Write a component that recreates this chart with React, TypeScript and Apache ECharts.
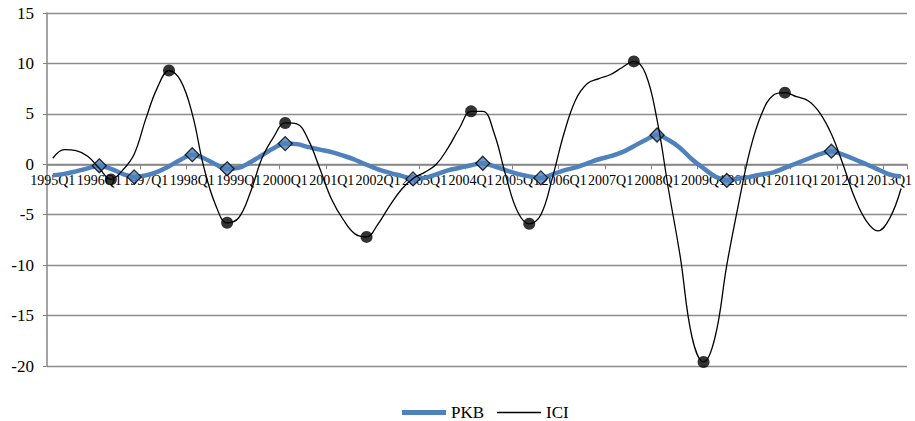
import React, { useEffect, useRef } from "react";
import * as echarts from "echarts";

// Quarterly labels, 1995Q1 .. 2013Q2
const years = [1995, 1996, 1997, 1998, 1999, 2000, 2001, 2002, 2003, 2004, 2005, 2006, 2007, 2008, 2009, 2010, 2011, 2012, 2013];
const quarterNames = ["Q1", "Q2", "Q3", "Q4"];
const categories: string[] = years
  .flatMap((y) => quarterNames.map((q) => `${y}${q}`))
  .slice(0, 74);

// Cyclical component of GDP (PKB)
const pkb = [
  -1.1, -0.95, -0.7, -0.4, -0.15, -0.45, -0.95, -1.25,
  -1.1, -0.75, -0.2, 0.45, 0.95, 0.6, 0.0, -0.45,
  -0.35, 0.2, 0.9, 1.6, 2.05, 2.0, 1.7, 1.45,
  1.2, 0.85, 0.45, -0.05, -0.5, -0.85, -1.15, -1.45,
  -1.35, -1.0, -0.6, -0.35, -0.1, 0.1, -0.2, -0.6,
  -0.95, -1.2, -1.35, -1.0, -0.6, -0.3, 0.1, 0.5,
  0.8, 1.2, 1.8, 2.4, 2.9, 2.4, 1.6, 0.5,
  -0.4, -1.2, -1.6, -1.4, -1.25, -1.0, -0.8, -0.35,
  0.1, 0.55, 1.0, 1.3, 0.95, 0.5, 0.0, -0.5,
  -1.0, -1.2,
];

// Industrial confidence indicator (ICI)
const ici = [
  0.6, 1.45, 1.35, 0.8, -0.4, -1.5, -0.6, 1.0,
  4.5, 7.6, 9.3, 8.3, 5.0, -0.3, -4.0, -5.8,
  -5.3, -2.8, 0.6, 2.7, 4.1, 4.0, 2.4, -0.5,
  -3.5, -5.5, -6.9, -7.2, -5.9, -4.1, -2.5, -1.4,
  -0.8, 0.0, 1.6, 3.6, 5.25, 5.25, 3.0, -1.2,
  -4.7, -5.9, -5.0, -1.3, 3.1, 6.4, 8.0, 8.5,
  8.9, 9.6, 10.2, 9.0, 4.4, -2.6, -9.2, -17.1,
  -19.6, -17.1, -10.0, -4.0, 1.4, 5.0, 6.85, 7.1,
  6.7, 6.3, 5.1, 3.0, 0.0, -3.3, -5.6, -6.6,
  -5.4, -2.4,
];

// Turning points (quarter indices) of each series
const pkbTurns = [4, 7, 12, 15, 20, 31, 37, 42, 52, 58, 67];
const iciTurns = [5, 10, 15, 20, 27, 36, 41, 50, 56, 63];

const yTicks = { min: -20, max: 15, interval: 5 };

const FONT = "Liberation Serif";
const BLUE = "#4F81BD";
const GRID_GRAY = "#8c8c8c";
const AXIS_GRAY = "#868686";

const CHART_W = 915;
const CHART_H = 421;
const GRID = { left: 47, right: 4, top: 13, bottom: 55 };

// The category axis sits on the zero line: shift it up from the bottom edge
const plotH = CHART_H - GRID.top - GRID.bottom;
const zeroShift = (plotH * (0 - yTicks.min)) / (yTicks.max - yTicks.min);

export default function App() {
  const ref = useRef<HTMLDivElement>(null);

  useEffect(() => {
    if (!ref.current) return;
    const chart = echarts.init(ref.current, undefined, { renderer: "svg" });
    chart.setOption({
      animation: false,
      backgroundColor: "#ffffff",
      grid: { ...GRID, containLabel: false },
      legend: {
        data: [
          { name: "PKB", icon: "path://M0,0L44,0L44,5L0,5Z" },
          { name: "ICI", icon: "path://M0,0L44,0L44,1.4L0,1.4Z" },
        ],
        left: 397,
        top: 399,
        itemWidth: 44,
        itemHeight: 14,
        itemGap: 13,
        textStyle: { fontFamily: FONT, fontSize: 17, color: "#000" },
      },
      xAxis: {
        type: "category",
        data: categories,
        boundaryGap: true,
        position: "bottom",
        offset: -zeroShift,
        axisLine: { onZero: false, lineStyle: { color: AXIS_GRAY, width: 1.5 } },
        axisTick: { show: true, interval: 3, length: 5, lineStyle: { color: AXIS_GRAY, width: 1 } },
        axisLabel: { interval: 3, margin: 9, fontFamily: FONT, fontSize: 14, color: "#000" },
        splitLine: { show: false },
      },
      yAxis: {
        type: "value",
        min: yTicks.min,
        max: yTicks.max,
        interval: yTicks.interval,
        axisLine: { show: true, onZero: false, lineStyle: { color: AXIS_GRAY, width: 1.5 } },
        axisTick: { show: true, length: 4, lineStyle: { color: AXIS_GRAY, width: 1 } },
        axisLabel: { margin: 13, fontFamily: FONT, fontSize: 17, color: "#000" },
        splitLine: { show: true, lineStyle: { color: GRID_GRAY, width: 1.3 } },
      },
      series: [
        {
          name: "PKB",
          type: "line",
          data: pkb,
          smooth: 0.4,
          symbol: "none",
          lineStyle: { color: BLUE, width: 4.5 },
          itemStyle: { color: BLUE },
          z: 2,
        },
        {
          name: "PKB turning points",
          type: "scatter",
          data: pkbTurns.map((i) => [i, pkb[i]]),
          symbol: "diamond",
          symbolSize: 14,
          itemStyle: { color: BLUE, borderColor: "#000", borderWidth: 1.3 },
          z: 3,
        },
        {
          name: "ICI",
          type: "line",
          data: ici,
          smooth: 0.4,
          symbol: "none",
          lineStyle: { color: "#000", width: 1.3 },
          itemStyle: { color: "#000" },
          z: 4,
        },
        {
          name: "ICI turning points",
          type: "scatter",
          data: iciTurns.map((i) => [i, ici[i]]),
          symbol: "circle",
          symbolSize: 12,
          itemStyle: { color: "#000" },
          z: 5,
        },
      ],
    });
    return () => chart.dispose();
  }, []);

  return (
    <div
      ref={ref}
      style={{ position: "fixed", left: 0, top: 0, width: CHART_W, height: CHART_H, background: "#fff" }}
    />
  );
}
